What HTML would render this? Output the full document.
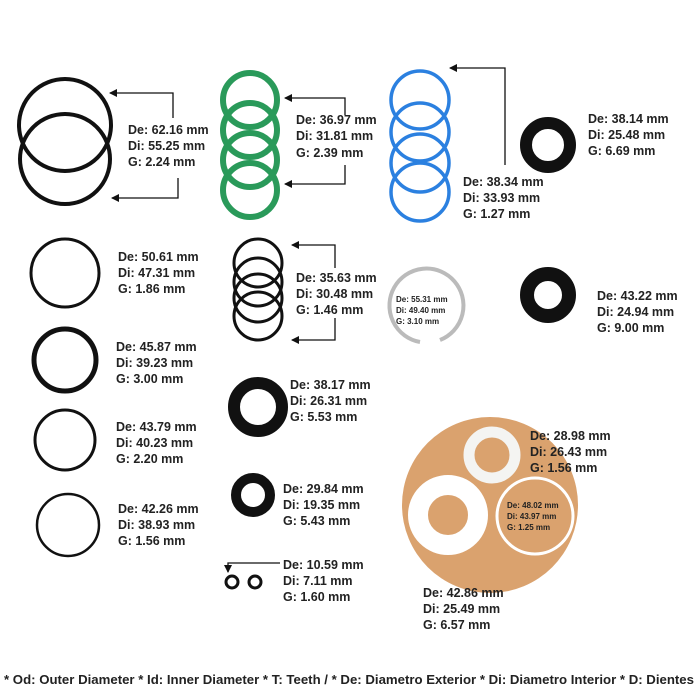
<!DOCTYPE html>
<html><head><style>html,body{margin:0;padding:0;background:#fff}svg{display:block}text{font-family:"Liberation Sans",Arial,sans-serif;font-weight:bold;fill:#222}</style></head>
<body>
<svg width="700" height="700" viewBox="0 0 700 700">
<defs><marker id="a" markerWidth="8" markerHeight="8" refX="7" refY="4" orient="auto" markerUnits="userSpaceOnUse"><path d="M0,0 L8,4 L0,8 z" fill="#111"/></marker></defs>
<g fill="none" stroke="#111">
<!-- left big rings -->
<circle cx="65" cy="125" r="46" stroke-width="4"/>
<circle cx="65" cy="159" r="45" stroke-width="4"/>
<circle cx="65" cy="273" r="34" stroke-width="3"/>
<circle cx="65" cy="360" r="31" stroke-width="5"/>
<circle cx="65" cy="440" r="30" stroke-width="3"/>
<circle cx="68" cy="525" r="31" stroke-width="2.5"/>
<!-- middle black rings -->
<circle cx="258" cy="263" r="24" stroke-width="3"/>
<circle cx="258" cy="282" r="24" stroke-width="3"/>
<circle cx="258" cy="298" r="24" stroke-width="3"/>
<circle cx="258" cy="316" r="24" stroke-width="3"/>
<!-- seals -->
<circle cx="548" cy="145" r="22" stroke-width="12"/>
<circle cx="548" cy="295" r="21" stroke-width="14"/>
<circle cx="258" cy="407" r="24" stroke-width="12"/>
<circle cx="253" cy="495" r="17" stroke-width="10"/>
<circle cx="232" cy="582" r="6" stroke-width="3"/>
<circle cx="255" cy="582" r="6" stroke-width="3"/>
</g>
<g fill="none" stroke="#2a9a5a" stroke-width="6">
<circle cx="250" cy="100" r="27"/><circle cx="250" cy="130" r="27"/><circle cx="250" cy="160" r="27"/><circle cx="250" cy="190" r="27"/>
</g>
<g fill="none" stroke="#2b80e0" stroke-width="3.5">
<circle cx="420" cy="100" r="29"/><circle cx="420" cy="132" r="29"/><circle cx="420" cy="163" r="29"/><circle cx="420" cy="192" r="29"/>
</g>
<path d="M420,342 A37,37 0 1,1 440,340" fill="none" stroke="#bbb" stroke-width="4"/>
<!-- tan disc -->
<circle cx="490" cy="505" r="88" fill="#daa26e"/>
<circle cx="492" cy="455" r="23" fill="none" stroke="#f4f4f2" stroke-width="11"/>
<circle cx="448" cy="515" r="30" fill="none" stroke="#fff" stroke-width="20"/>
<circle cx="535" cy="516" r="38" fill="none" stroke="#fff" stroke-width="3"/>
<!-- arrows -->
<g fill="none" stroke="#111" stroke-width="1.3">
<path d="M173,118 V93 H110" marker-end="url(#a)"/>
<path d="M178,178 V198 H112" marker-end="url(#a)"/>
<path d="M345,115 V98 H285" marker-end="url(#a)"/>
<path d="M345,165 V184 H285" marker-end="url(#a)"/>
<path d="M505,165 V68 H450" marker-end="url(#a)"/>
<path d="M335,268 V245 H292" marker-end="url(#a)"/>
<path d="M335,318 V340 H292" marker-end="url(#a)"/>
<path d="M280,563 H228 V572" marker-end="url(#a)"/>
</g>
<g font-size="12.5">
<text x="128" y="134">De: 62.16 mm</text><text x="128" y="150">Di: 55.25 mm</text><text x="128" y="166">G: 2.24 mm</text>
<text x="296" y="124">De: 36.97 mm</text><text x="296" y="140">Di: 31.81 mm</text><text x="296" y="157">G: 2.39 mm</text>
<text x="463" y="186">De: 38.34 mm</text><text x="463" y="202">Di: 33.93 mm</text><text x="463" y="218">G: 1.27 mm</text>
<text x="588" y="123">De: 38.14 mm</text><text x="588" y="139">Di: 25.48 mm</text><text x="588" y="155">G: 6.69 mm</text>
<text x="118" y="261">De: 50.61 mm</text><text x="118" y="277">Di: 47.31 mm</text><text x="118" y="293">G: 1.86 mm</text>
<text x="296" y="282">De: 35.63 mm</text><text x="296" y="298">Di: 30.48 mm</text><text x="296" y="314">G: 1.46 mm</text>
<text x="597" y="300">De: 43.22 mm</text><text x="597" y="316">Di: 24.94 mm</text><text x="597" y="332">G: 9.00 mm</text>
<text x="116" y="351">De: 45.87 mm</text><text x="116" y="367">Di: 39.23 mm</text><text x="116" y="383">G: 3.00 mm</text>
<text x="290" y="389">De: 38.17 mm</text><text x="290" y="405">Di: 26.31 mm</text><text x="290" y="421">G: 5.53 mm</text>
<text x="116" y="431">De: 43.79 mm</text><text x="116" y="447">Di: 40.23 mm</text><text x="116" y="463">G: 2.20 mm</text>
<text x="530" y="440">De: 28.98 mm</text><text x="530" y="456">Di: 26.43 mm</text><text x="530" y="472">G: 1.56 mm</text>
<text x="283" y="493">De: 29.84 mm</text><text x="283" y="509">Di: 19.35 mm</text><text x="283" y="525">G: 5.43 mm</text>
<text x="118" y="513">De: 42.26 mm</text><text x="118" y="529">Di: 38.93 mm</text><text x="118" y="545">G: 1.56 mm</text>
<text x="283" y="569">De: 10.59 mm</text><text x="283" y="585">Di: 7.11 mm</text><text x="283" y="601">G: 1.60 mm</text>
<text x="423" y="597">De: 42.86 mm</text><text x="423" y="613">Di: 25.49 mm</text><text x="423" y="629">G: 6.57 mm</text>
</g>
<g font-size="8">
<text x="396" y="302">De: 55.31 mm</text><text x="396" y="313">Di: 49.40 mm</text><text x="396" y="324">G: 3.10 mm</text>
<text x="507" y="508">De: 48.02 mm</text><text x="507" y="519">Di: 43.97 mm</text><text x="507" y="530">G: 1.25 mm</text>
</g>
<text x="4" y="684" font-size="12.5" textLength="690" lengthAdjust="spacingAndGlyphs" fill="#000">* Od: Outer Diameter  * Id: Inner Diameter  *  T:  Teeth  /  * De: Diametro Exterior  * Di: Diametro Interior   * D: Dientes</text>
</svg>
</body></html>
